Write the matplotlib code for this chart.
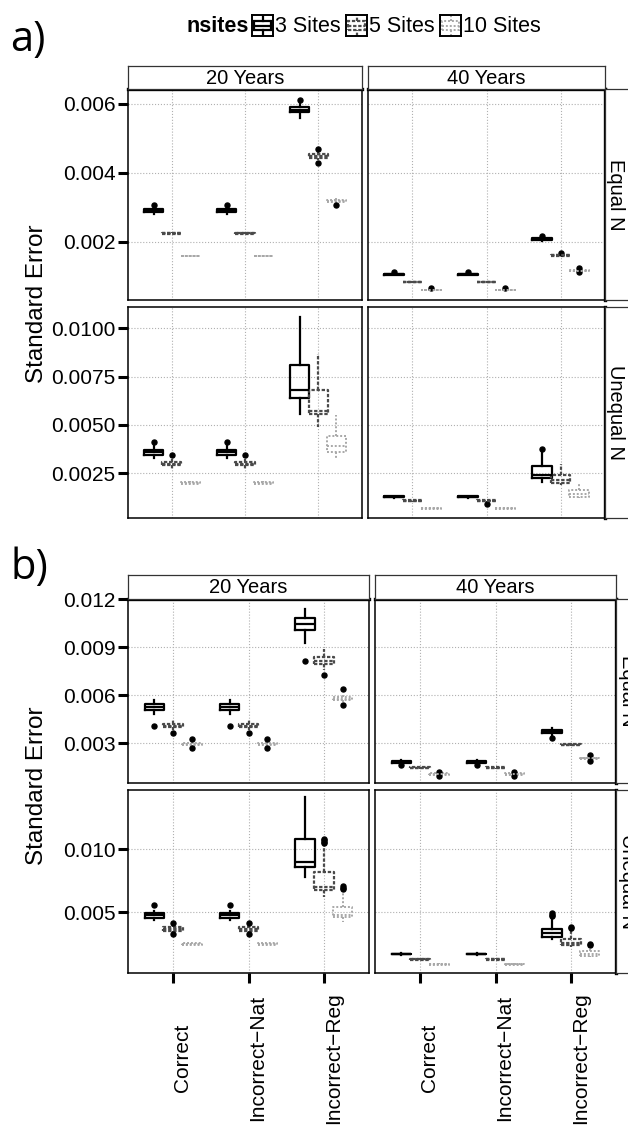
import matplotlib
matplotlib.use('Agg')
import matplotlib.pyplot as plt
from matplotlib.patches import Rectangle
from matplotlib.lines import Line2D

plt.rcParams['font.family'] = ['Liberation Sans', 'DejaVu Sans']

# ---------------- data ----------------
categories = ['Correct', 'Incorrect\u2212Nat', 'Incorrect\u2212Reg']
groups = ['3 Sites', '5 Sites', '10 Sites']
years = ['20 Years', '40 Years']
designs = ['Equal N', 'Unequal N']

# box stats rows: [whislo, q1, med, q3, whishi]; order Correct(3,5,10), Nat(3,5,10), Reg(3,5,10)
a_equal_20 = [
    [0.00280, 0.00286, 0.00291, 0.00296, 0.00300],
    [0.00222, 0.00224, 0.00225, 0.00226, 0.00228],
    [0.00157, 0.00158, 0.00159, 0.00160, 0.00161],
    [0.00280, 0.00286, 0.00291, 0.00296, 0.00300],
    [0.00222, 0.00224, 0.00225, 0.00226, 0.00228],
    [0.00157, 0.00158, 0.00159, 0.00160, 0.00161],
    [0.00560, 0.00576, 0.00583, 0.00590, 0.00604],
    [0.00437, 0.00444, 0.00449, 0.00454, 0.00461],
    [0.00313, 0.00316, 0.00320, 0.00323, 0.00326],
]
a_equal_20_fliers = [[0.00306], [], [], [0.00306], [], [], [0.00612], [0.00430, 0.00468], [0.00308]]

a_equal_40 = [
    [0.00103, 0.00105, 0.00107, 0.00108, 0.00110],
    [0.00081, 0.00083, 0.00084, 0.00085, 0.00087],
    [0.00058, 0.00060, 0.00061, 0.00062, 0.00063],
    [0.00103, 0.00105, 0.00107, 0.00108, 0.00110],
    [0.00081, 0.00083, 0.00084, 0.00085, 0.00087],
    [0.00058, 0.00060, 0.00061, 0.00062, 0.00063],
    [0.00204, 0.00207, 0.00209, 0.00211, 0.00213],
    [0.00158, 0.00160, 0.00162, 0.00163, 0.00165],
    [0.00112, 0.00115, 0.00117, 0.00119, 0.00121],
]
a_equal_40_fliers = [[0.00112], [], [0.00066], [0.00112], [], [0.00066], [0.00216], [0.00168], [0.00124, 0.00112]]

a_unequal_20 = [
    [0.00330, 0.00345, 0.00358, 0.00371, 0.00390],
    [0.00272, 0.00292, 0.00300, 0.00308, 0.00325],
    [0.00192, 0.00196, 0.00200, 0.00203, 0.00207],
    [0.00330, 0.00345, 0.00358, 0.00371, 0.00390],
    [0.00272, 0.00292, 0.00300, 0.00308, 0.00325],
    [0.00192, 0.00196, 0.00200, 0.00203, 0.00207],
    [0.00557, 0.00637, 0.00678, 0.00812, 0.01060],
    [0.00489, 0.00554, 0.00571, 0.00683, 0.00869],
    [0.00327, 0.00360, 0.00390, 0.00441, 0.00549],
]
a_unequal_20_fliers = [[0.00410], [0.00343], [], [0.00410], [0.00343], [], [], [], []]

a_unequal_40 = [
    [0.00124, 0.00126, 0.00128, 0.00130, 0.00132],
    [0.00102, 0.00105, 0.00107, 0.00109, 0.00111],
    [0.00064, 0.00066, 0.00068, 0.00070, 0.00072],
    [0.00124, 0.00126, 0.00128, 0.00130, 0.00132],
    [0.00102, 0.00105, 0.00107, 0.00109, 0.00111],
    [0.00064, 0.00066, 0.00068, 0.00070, 0.00072],
    [0.00205, 0.00226, 0.00240, 0.00286, 0.00360],
    [0.00190, 0.00197, 0.00215, 0.00243, 0.00296],
    [0.00120, 0.00128, 0.00140, 0.00162, 0.00198],
]
a_unequal_40_fliers = [[], [], [], [], [0.00093], [], [0.00374], [], []]

b_equal_20 = [
    [0.00485, 0.00510, 0.00527, 0.00542, 0.00569],
    [0.00380, 0.00400, 0.00410, 0.00420, 0.00445],
    [0.00280, 0.00288, 0.00294, 0.00300, 0.00308],
    [0.00485, 0.00510, 0.00527, 0.00542, 0.00569],
    [0.00380, 0.00400, 0.00410, 0.00420, 0.00445],
    [0.00280, 0.00288, 0.00294, 0.00300, 0.00308],
    [0.00927, 0.01006, 0.01044, 0.01080, 0.01142],
    [0.00756, 0.00792, 0.00812, 0.00836, 0.00888],
    [0.00555, 0.00570, 0.00579, 0.00590, 0.00610],
]
b_equal_20_fliers = [[0.00410], [0.00364], [0.00267, 0.00323],
                     [0.00410], [0.00364], [0.00267, 0.00323],
                     [0.00814], [0.00725], [0.00538, 0.00640]]

b_equal_40 = [
    [0.00172, 0.00178, 0.00183, 0.00190, 0.00195],
    [0.00138, 0.00142, 0.00146, 0.00149, 0.00153],
    [0.00098, 0.00102, 0.00106, 0.00110, 0.00114],
    [0.00172, 0.00178, 0.00183, 0.00190, 0.00195],
    [0.00138, 0.00142, 0.00146, 0.00149, 0.00153],
    [0.00098, 0.00102, 0.00106, 0.00110, 0.00114],
    [0.00345, 0.00362, 0.00371, 0.00380, 0.00392],
    [0.00282, 0.00287, 0.00290, 0.00293, 0.00298],
    [0.00195, 0.00200, 0.00204, 0.00208, 0.00214],
]
b_equal_40_fliers = [[0.00163], [], [0.00118, 0.00095], [0.00163], [], [0.00118, 0.00095],
                     [0.00332], [], [0.00225, 0.00190]]

b_unequal_20 = [
    [0.00440, 0.00455, 0.00476, 0.00494, 0.00510],
    [0.00335, 0.00352, 0.00365, 0.00378, 0.00395],
    [0.00236, 0.00241, 0.00246, 0.00251, 0.00256],
    [0.00440, 0.00455, 0.00476, 0.00494, 0.00510],
    [0.00335, 0.00352, 0.00365, 0.00378, 0.00395],
    [0.00236, 0.00241, 0.00246, 0.00251, 0.00256],
    [0.00775, 0.00855, 0.00897, 0.01082, 0.01415],
    [0.00617, 0.00675, 0.00696, 0.00815, 0.01040],
    [0.00423, 0.00458, 0.00480, 0.00542, 0.00675],
]
b_unequal_20_fliers = [[0.00556], [0.00410, 0.00325], [], [0.00556], [0.00410, 0.00325], [],
                       [], [0.01050, 0.01060, 0.01070, 0.01080], [0.00685, 0.00695, 0.00706]]

b_unequal_40 = [
    [0.00160, 0.00164, 0.00167, 0.00170, 0.00174],
    [0.00117, 0.00121, 0.00125, 0.00129, 0.00133],
    [0.00078, 0.00082, 0.00085, 0.00088, 0.00092],
    [0.00160, 0.00164, 0.00167, 0.00170, 0.00174],
    [0.00117, 0.00121, 0.00125, 0.00129, 0.00133],
    [0.00078, 0.00082, 0.00085, 0.00088, 0.00092],
    [0.00283, 0.00304, 0.00330, 0.00365, 0.00460],
    [0.00225, 0.00238, 0.00255, 0.00286, 0.00357],
    [0.00145, 0.00153, 0.00170, 0.00190, 0.00210],
]
b_unequal_40_fliers = [[], [], [], [], [], [], [0.00470, 0.00480, 0.00490], [0.00370, 0.00383], [0.00236, 0.00243]]

# y scales per row
a_equal_ylim = (0.00032, 0.00643)
a_equal_ticks = [0.002, 0.004, 0.006]
a_equal_labels = ['0.002', '0.004', '0.006']
a_unequal_ylim = (0.00018, 0.0111)
a_unequal_ticks = [0.0025, 0.0050, 0.0075, 0.0100]
a_unequal_labels = ['0.0025', '0.0050', '0.0075', '0.0100']
b_equal_ylim = (0.0005, 0.01202)
b_equal_ticks = [0.003, 0.006, 0.009, 0.012]
b_equal_labels = ['0.003', '0.006', '0.009', '0.012']
b_unequal_ylim = (0.00016, 0.0147)
b_unequal_ticks = [0.005, 0.010]
b_unequal_labels = ['0.005', '0.010']

# ---------------- figure ----------------
W, H = 628, 1126
fig = plt.figure(figsize=(W / 100, H / 100), dpi=100)

def px_axes(x0, y0, x1, y1, **kw):
    return fig.add_axes([x0 / W, 1 - y1 / H, (x1 - x0) / W, (y1 - y0) / H], **kw)

styles = [
    dict(color='black', ls='-', lw=1.6),
    dict(color='#4a4a4a', ls=(0, (1.5, 0.8)), lw=1.6),
    dict(color='#a8a8a8', ls=(0, (1, 1)), lw=1.4),
]
offsets = [-0.25, 0.0, 0.25]
TICK_FS = 15
STRIP_FS = 14.5

def draw_panel(ax, stats, fliers, ylim, yticks, ylabels, show_y, show_x, thick_top, thick_right):
    ax.set_axisbelow(True)
    for gi in range(3):
        st, pos = [], []
        for ci in range(3):
            k = ci * 3 + gi
            wl, q1, md, q3, wh = stats[k]
            st.append(dict(whislo=wl, q1=q1, med=md, q3=q3, whishi=wh, fliers=fliers[k]))
            pos.append(ci + 1 + offsets[gi])
        s = styles[gi]
        lp = dict(color=s['color'], linestyle=s['ls'], linewidth=s['lw'])
        ax.bxp(st, positions=pos, widths=0.26, showcaps=False, manage_ticks=False,
               boxprops=lp, whiskerprops=lp, medianprops=lp,
               flierprops=dict(marker='o', markersize=3.6, markerfacecolor='black',
                               markeredgecolor='black', linestyle='none'))
    ax.set_xlim(0.4, 3.6)
    ax.set_ylim(*ylim)
    ax.set_xticks([1, 2, 3])
    ax.set_yticks(yticks)
    ax.grid(True, linestyle=':', color='#b0b0b0', linewidth=0.8)
    for sp in ax.spines.values():
        sp.set_linewidth(1.1)
        sp.set_color('black')
    if thick_top:
        ax.spines['top'].set_linewidth(2.4)
    if thick_right:
        ax.spines['right'].set_linewidth(2.4)
    if show_y:
        ax.set_yticklabels(ylabels)
        ax.tick_params(axis='y', length=7, width=2.2, labelsize=TICK_FS, pad=2, colors='black')
    else:
        ax.tick_params(axis='y', length=0, labelleft=False)
    if show_x:
        ax.set_xticklabels(categories, rotation=90, ha='left', va='center')
        ax.tick_params(axis='x', length=7, width=2.2, labelsize=TICK_FS, pad=54)
    else:
        ax.tick_params(axis='x', length=0, labelbottom=False)

def strip_top(x0, x1, y0, y1, label):
    sa = px_axes(x0, y0, x1, y1)
    sa.set_xticks([]); sa.set_yticks([])
    for sp in sa.spines.values():
        sp.set_color('#333333'); sp.set_linewidth(0.9)
    sa.text(0.5, 0.47, label, ha='center', va='center', fontsize=STRIP_FS, transform=sa.transAxes)

def strip_right(x0, y0, y1, label, tx):
    sa = px_axes(x0, y0, x0 + 40, y1)
    sa.set_xticks([]); sa.set_yticks([])
    for sp in sa.spines.values():
        sp.set_color('#333333'); sp.set_linewidth(0.9)
    fig.text(tx / W, 1 - (y0 + y1) / 2 / H, label, rotation=-90, ha='center', va='center',
             fontsize=STRIP_FS)

def build(spec, cols, rows, strip_y, right_x, right_tx, show_x_bottom):
    for ri in range(2):
        for ci in range(2):
            x0, x1 = cols[ci]
            y0, y1 = rows[ri]
            ax = px_axes(x0, y0, x1, y1)
            st, fl, ylim, ticks, labels = spec[ri][ci]
            draw_panel(ax, st, fl, ylim, ticks, labels, ci == 0,
                       show_x_bottom and ri == 1, ri == 0, ci == 1)
    for ci in range(2):
        strip_top(cols[ci][0], cols[ci][1], strip_y[0], strip_y[1], years[ci])
    for ri in range(2):
        strip_right(right_x, rows[ri][0], rows[ri][1], designs[ri], right_tx)

# panel a
a_spec = [
    [(a_equal_20, a_equal_20_fliers, a_equal_ylim, a_equal_ticks, a_equal_labels),
     (a_equal_40, a_equal_40_fliers, a_equal_ylim, a_equal_ticks, a_equal_labels)],
    [(a_unequal_20, a_unequal_20_fliers, a_unequal_ylim, a_unequal_ticks, a_unequal_labels),
     (a_unequal_40, a_unequal_40_fliers, a_unequal_ylim, a_unequal_ticks, a_unequal_labels)],
]
build(a_spec, [(128, 362), (368, 605)], [(89, 300), (307, 518)], (66, 89), 605, 615, False)

b_spec = [
    [(b_equal_20, b_equal_20_fliers, b_equal_ylim, b_equal_ticks, b_equal_labels),
     (b_equal_40, b_equal_40_fliers, b_equal_ylim, b_equal_ticks, b_equal_labels)],
    [(b_unequal_20, b_unequal_20_fliers, b_unequal_ylim, b_unequal_ticks, b_unequal_labels),
     (b_unequal_40, b_unequal_40_fliers, b_unequal_ylim, b_unequal_ticks, b_unequal_labels)],
]
build(b_spec, [(128, 369), (375, 616)], [(599, 783), (790, 973)], (575, 599), 616, 627, True)

# axis titles
fig.text(37 / W, 1 - 304 / H, 'Standard Error', rotation=90, ha='center', va='center', fontsize=17.5)
fig.text(37 / W, 1 - 786 / H, 'Standard Error', rotation=90, ha='center', va='center', fontsize=17.5)

# panel letters
fig.text(10 / W, 1 - 40 / H, 'a)', ha='left', va='center', fontsize=30, family=['Open Sans', 'DejaVu Sans'])
fig.text(10 / W, 1 - 568 / H, 'b)', ha='left', va='center', fontsize=30, family=['Open Sans', 'DejaVu Sans'])

# legend
LEG_Y = 26
LEG_FS = 15.5
fig.text(186 / W, 1 - LEG_Y / H, 'nsites', ha='left', va='center', fontsize=LEG_FS, fontweight='bold')
key_x = [252, 346, 440]
for gi in range(3):
    kx = key_x[gi]
    ka = px_axes(kx, LEG_Y - 11, kx + 21, LEG_Y + 10)
    ka.set_xlim(0, 1); ka.set_ylim(0, 1)
    ka.set_xticks([]); ka.set_yticks([])
    for sp in ka.spines.values():
        sp.set_color('black'); sp.set_linewidth(1.4)
    s = styles[gi]
    ka.add_patch(Rectangle((0.1, 0.28), 0.8, 0.44, fill=False, edgecolor=s['color'],
                           linestyle=s['ls'], linewidth=s['lw']))
    ka.add_line(Line2D([0.1, 0.9], [0.5, 0.5], color=s['color'], linestyle=s['ls'], linewidth=s['lw']))
    ka.add_line(Line2D([0.5, 0.5], [0.0, 0.28], color=s['color'], linestyle=s['ls'], linewidth=s['lw']))
    ka.add_line(Line2D([0.5, 0.5], [0.72, 1.0], color=s['color'], linestyle=s['ls'], linewidth=s['lw']))
    fig.text((kx + 23) / W, 1 - LEG_Y / H, groups[gi], ha='left', va='center', fontsize=LEG_FS)

fig.savefig('out.png', dpi=100)
